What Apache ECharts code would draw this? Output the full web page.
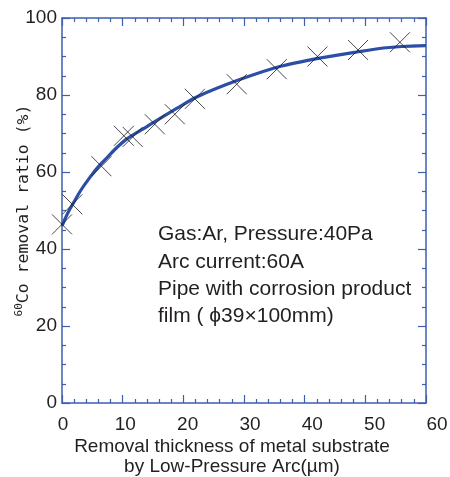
<!DOCTYPE html>
<html>
<head>
<meta charset="utf-8">
<script src="https://cdn.jsdelivr.net/npm/echarts@6/dist/echarts.min.js"></script>
<style>
html,body{margin:0;padding:0;background:#fff;}
#chart{width:450px;height:477px;}
</style>
</head>
<body>
<div id="chart"></div>
<script>
// measured points (x marks)
var markX=[0,1.7,6.5,10.2,11.65,15.3,18.6,21.9,28.8,35.4,42.1,48.8,55.7];
var markY=[46.4,51.6,61.5,69.4,69.1,72.4,75,79,82.8,86.7,90,91.7,93.7];
// fitted curve
var fitX=[0,0.5,1,1.9,3,4.6,6,7.4,9,10.7,14,18.9,22.2,29.3,35.9,42.5,49.1,53,56,60];
var fitY=[46,47.8,49.5,52,55,58.6,61.4,63.7,66.3,68.6,71.8,76.5,79.5,84,87.4,89.6,91.3,92.2,92.6,92.8];
// tick labels under the x axis
var xTickLabels=[0,10,20,30,40,50,60];
var noteLines=['Gas:Ar, Pressure:40Pa','Arc current:60A','Pipe with corrosion product','film\u00a0(\u00a0\u03d539\u00d7100mm)'];

var frameColor='#3d5fb0';
var textColor='#231f20';
var font='Liberation Sans';

function pairs(xs,ys){
	return xs.map(function(v,i){return [v,ys[i]];});
}

var dom=document.getElementById('chart');
var myChart=echarts.init(dom,null,{renderer:'canvas'});

var tickCommon={show:true,inside:true,length:8,lineStyle:{color:frameColor,width:1.2}};
var minorCommon={show:true,length:4,lineStyle:{color:frameColor,width:1.2}};
var lineCommon={show:true,onZero:false,lineStyle:{color:frameColor,width:1.5}};

var option={
	animation:false,
	backgroundColor:'#fff',
	grid:[
		{left:62,right:24,top:18,bottom:74,outerBoundsMode:'none',containLabel:false},
		{left:63,right:13,top:18,bottom:74,outerBoundsMode:'none',containLabel:false}
	],
	xAxis:[
		{gridIndex:0,type:'value',min:0,max:60,interval:10,position:'bottom',
			axisLine:lineCommon,axisTick:tickCommon,minorTick:Object.assign({splitNumber:5},minorCommon),
			axisLabel:{show:false},splitLine:{show:false},
			name:'Removal thickness of metal substrate\nby Low-Pressure Arc(\u00b5m)',
			nameLocation:'middle',nameGap:34,nameMoveOverlap:false,
			nameTextStyle:{color:textColor,fontFamily:font,fontSize:19,lineHeight:20,padding:[0,24,0,0]}},
		{gridIndex:0,type:'value',min:0,max:60,interval:10,position:'top',
			axisLine:lineCommon,axisTick:tickCommon,minorTick:Object.assign({splitNumber:5},minorCommon),
			axisLabel:{show:false},splitLine:{show:false}},
		{gridIndex:1,type:'value',min:0,max:60,interval:10,position:'bottom',
			axisLine:{show:false},axisTick:{show:false},splitLine:{show:false},
			axisLabel:{show:true,margin:12,color:textColor,fontFamily:font,fontSize:19,
				formatter:function(v){return xTickLabels.indexOf(v)>=0?String(v):'';}}}
	],
	yAxis:[
		{gridIndex:0,type:'value',min:0,max:100,interval:20,position:'left',
			axisLine:lineCommon,axisTick:tickCommon,minorTick:Object.assign({splitNumber:4},minorCommon),
			splitLine:{show:false},
			axisLabel:{show:true,margin:5,color:textColor,fontFamily:font,fontSize:19},
			name:'{sup|60}{m|Co removal ratio (%)}',nameLocation:'middle',nameGap:28,nameMoveOverlap:false,
			nameTextStyle:{color:textColor,rich:{
				sup:{fontFamily:'DejaVu Sans Mono',fontSize:11,color:textColor,verticalAlign:'top',lineHeight:20},
				m:{fontFamily:'DejaVu Sans Mono',fontSize:16.5,color:textColor,lineHeight:20}
			}}},
		{gridIndex:0,type:'value',min:0,max:100,interval:20,position:'right',
			axisLine:lineCommon,axisTick:tickCommon,minorTick:Object.assign({splitNumber:4},minorCommon),
			splitLine:{show:false},axisLabel:{show:false}},
		{gridIndex:1,type:'value',min:0,max:100,show:false}
	],
	graphic:[
		{type:'text',left:158,top:221,style:{text:noteLines.join('\n'),fill:textColor,
			font:'21px "Liberation Sans"',lineHeight:27.3}}
	],
	series:[
		{type:'line',xAxisIndex:0,yAxisIndex:0,data:pairs(fitX,fitY),smooth:0.3,
			showSymbol:false,lineStyle:{color:'#2b4ea6',width:3.2},z:2},
		{type:'scatter',xAxisIndex:0,yAxisIndex:0,data:pairs(markX,markY),
			symbol:'path://M0,0L20,20M20,0L0,20',symbolSize:20,
			itemStyle:{color:'none',borderColor:'#1a1a1a',borderWidth:1},z:3}
	]
};
myChart.setOption(option);
</script>
</body>
</html>
